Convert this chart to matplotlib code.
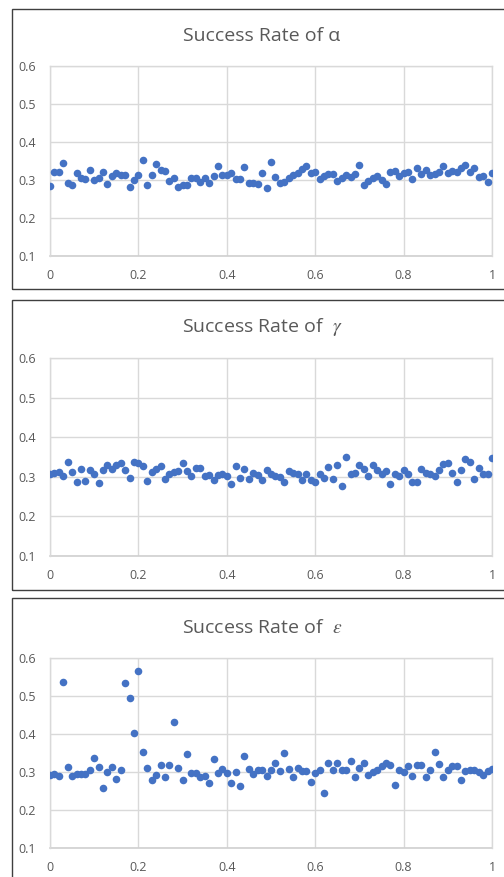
import matplotlib
matplotlib.use("Agg")
import matplotlib.pyplot as plt
from matplotlib.patches import Rectangle
import numpy as np

plt.rcParams['mathtext.fontset'] = 'stix'
plt.rcParams['font.family'] = ['Open Sans', 'DejaVu Sans']

x_values = [round(i * 0.01, 2) for i in range(101)]

alpha_rate = [0.284, 0.322, 0.322, 0.344, 0.292, 0.287, 0.318, 0.306, 0.303, 0.327,
              0.300, 0.306, 0.322, 0.290, 0.311, 0.318, 0.313, 0.313, 0.282, 0.300,
              0.313, 0.353, 0.287, 0.313, 0.341, 0.326, 0.325, 0.297, 0.306, 0.281,
              0.287, 0.286, 0.305, 0.304, 0.294, 0.304, 0.293, 0.311, 0.338, 0.313,
              0.313, 0.319, 0.303, 0.302, 0.333, 0.293, 0.293, 0.289, 0.318, 0.278,
              0.347, 0.309, 0.291, 0.296, 0.304, 0.314, 0.319, 0.328, 0.338, 0.319,
              0.322, 0.303, 0.311, 0.316, 0.316, 0.297, 0.304, 0.313, 0.307, 0.316,
              0.340, 0.286, 0.297, 0.304, 0.311, 0.300, 0.289, 0.322, 0.324, 0.311,
              0.318, 0.322, 0.303, 0.331, 0.316, 0.326, 0.313, 0.316, 0.321, 0.338,
              0.318, 0.325, 0.322, 0.331, 0.340, 0.320, 0.331, 0.309, 0.311, 0.296,
              0.318]

gamma_rate = [0.307, 0.310, 0.313, 0.303, 0.337, 0.313, 0.286, 0.319, 0.289, 0.316,
              0.307, 0.285, 0.316, 0.329, 0.319, 0.330, 0.335, 0.316, 0.297, 0.337,
              0.334, 0.327, 0.289, 0.313, 0.319, 0.327, 0.295, 0.308, 0.313, 0.314,
              0.335, 0.314, 0.302, 0.323, 0.323, 0.303, 0.305, 0.293, 0.305, 0.308,
              0.302, 0.282, 0.327, 0.296, 0.320, 0.295, 0.310, 0.305, 0.292, 0.316,
              0.306, 0.303, 0.300, 0.287, 0.314, 0.310, 0.307, 0.293, 0.308, 0.293,
              0.287, 0.308, 0.296, 0.324, 0.295, 0.331, 0.278, 0.351, 0.308, 0.310,
              0.329, 0.320, 0.302, 0.330, 0.317, 0.308, 0.314, 0.281, 0.308, 0.302,
              0.317, 0.308, 0.287, 0.287, 0.320, 0.310, 0.308, 0.303, 0.316, 0.333,
              0.334, 0.310, 0.286, 0.317, 0.346, 0.337, 0.295, 0.323, 0.308, 0.308,
              0.348]

epsilon_rate = [0.291, 0.296, 0.290, 0.536, 0.312, 0.290, 0.296, 0.295, 0.296, 0.304,
                0.337, 0.312, 0.258, 0.300, 0.313, 0.281, 0.305, 0.535, 0.495, 0.402,
                0.567, 0.353, 0.311, 0.280, 0.291, 0.318, 0.286, 0.318, 0.431, 0.310,
                0.280, 0.347, 0.297, 0.297, 0.286, 0.290, 0.270, 0.334, 0.297, 0.307,
                0.297, 0.270, 0.300, 0.262, 0.341, 0.307, 0.296, 0.306, 0.304, 0.290,
                0.304, 0.324, 0.303, 0.351, 0.309, 0.287, 0.311, 0.303, 0.303, 0.273,
                0.298, 0.304, 0.245, 0.325, 0.306, 0.324, 0.304, 0.304, 0.330, 0.287,
                0.311, 0.324, 0.292, 0.300, 0.306, 0.316, 0.325, 0.318, 0.265, 0.304,
                0.300, 0.315, 0.289, 0.318, 0.318, 0.288, 0.304, 0.353, 0.320, 0.287,
                0.304, 0.316, 0.315, 0.278, 0.303, 0.306, 0.306, 0.300, 0.291, 0.303,
                0.307]

titles = ["Success Rate of \u03b1", "Success Rate of  $\\gamma$", "Success Rate of  $\\varepsilon$"]
y_ticks = [0.1, 0.2, 0.3, 0.4, 0.5, 0.6]
x_ticks = [0, 0.2, 0.4, 0.6, 0.8, 1]
x_tick_labels = ["0", "0.2", "0.4", "0.6", "0.8", "1"]

W, H = 504, 877
fig = plt.figure(figsize=(W / 100, H / 100), dpi=100)
fig.patch.set_facecolor('white')

def fx(px):
    return px / W

def fy(py):
    return 1 - py / H

# (box_top, box_bottom, plot_top, plot_bottom, title_y)
panels = [
    (9, 289, 66, 256, 36),
    (300, 590, 358, 556, 327),
    (598, 890, 658, 848, 628),
]
series = [alpha_rate, gamma_rate, epsilon_rate]

text_color = '#595959'
grid_color = '#d9d9d9'
dot_color = '#4472c4'

for (bt, bb, pt, pb, ty), data, title in zip(panels, series, titles):
    rect = Rectangle((fx(12), fy(bb)), fx(520) - fx(12), fy(bt) - fy(bb),
                     transform=fig.transFigure, fill=False, edgecolor='#3f3f3f',
                     linewidth=1.0, clip_on=False)
    fig.patches.append(rect)
    ax = fig.add_axes([fx(50), fy(pb), fx(492) - fx(50), fy(pt) - fy(pb)])
    ax.scatter(x_values, data, s=30, color=dot_color, zorder=3, linewidths=0)
    ax.set_xlim(0, 1)
    ax.set_ylim(0.1, 0.6)
    ax.set_xticks(x_ticks)
    ax.set_xticklabels(x_tick_labels)
    ax.set_yticks(y_ticks)
    ax.set_yticklabels([f"{v:.1f}" for v in y_ticks])
    ax.grid(True, color=grid_color, linewidth=1.0, zorder=0)
    for s in ax.spines.values():
        s.set_visible(False)
    ax.axhline(0.1, color='#d0d0d0', linewidth=1.2, zorder=1, clip_on=False)
    ax.axvline(0, color=grid_color, linewidth=1.0, zorder=1, clip_on=False)
    ax.axvline(1, color=grid_color, linewidth=1.0, zorder=1, clip_on=False)
    ax.axhline(0.6, color=grid_color, linewidth=1.0, zorder=1, clip_on=False)
    ax.tick_params(axis='both', length=0, labelsize=9, labelcolor=text_color)
    ax.tick_params(axis='y', pad=10)
    ax.tick_params(axis='x', pad=9.5)
    ax.set_axisbelow(True)
    fig.text(fx(262), fy(ty), title, ha='center', va='center', fontsize=14,
             color=text_color)

fig.savefig("out.png", dpi=100, facecolor='white')
